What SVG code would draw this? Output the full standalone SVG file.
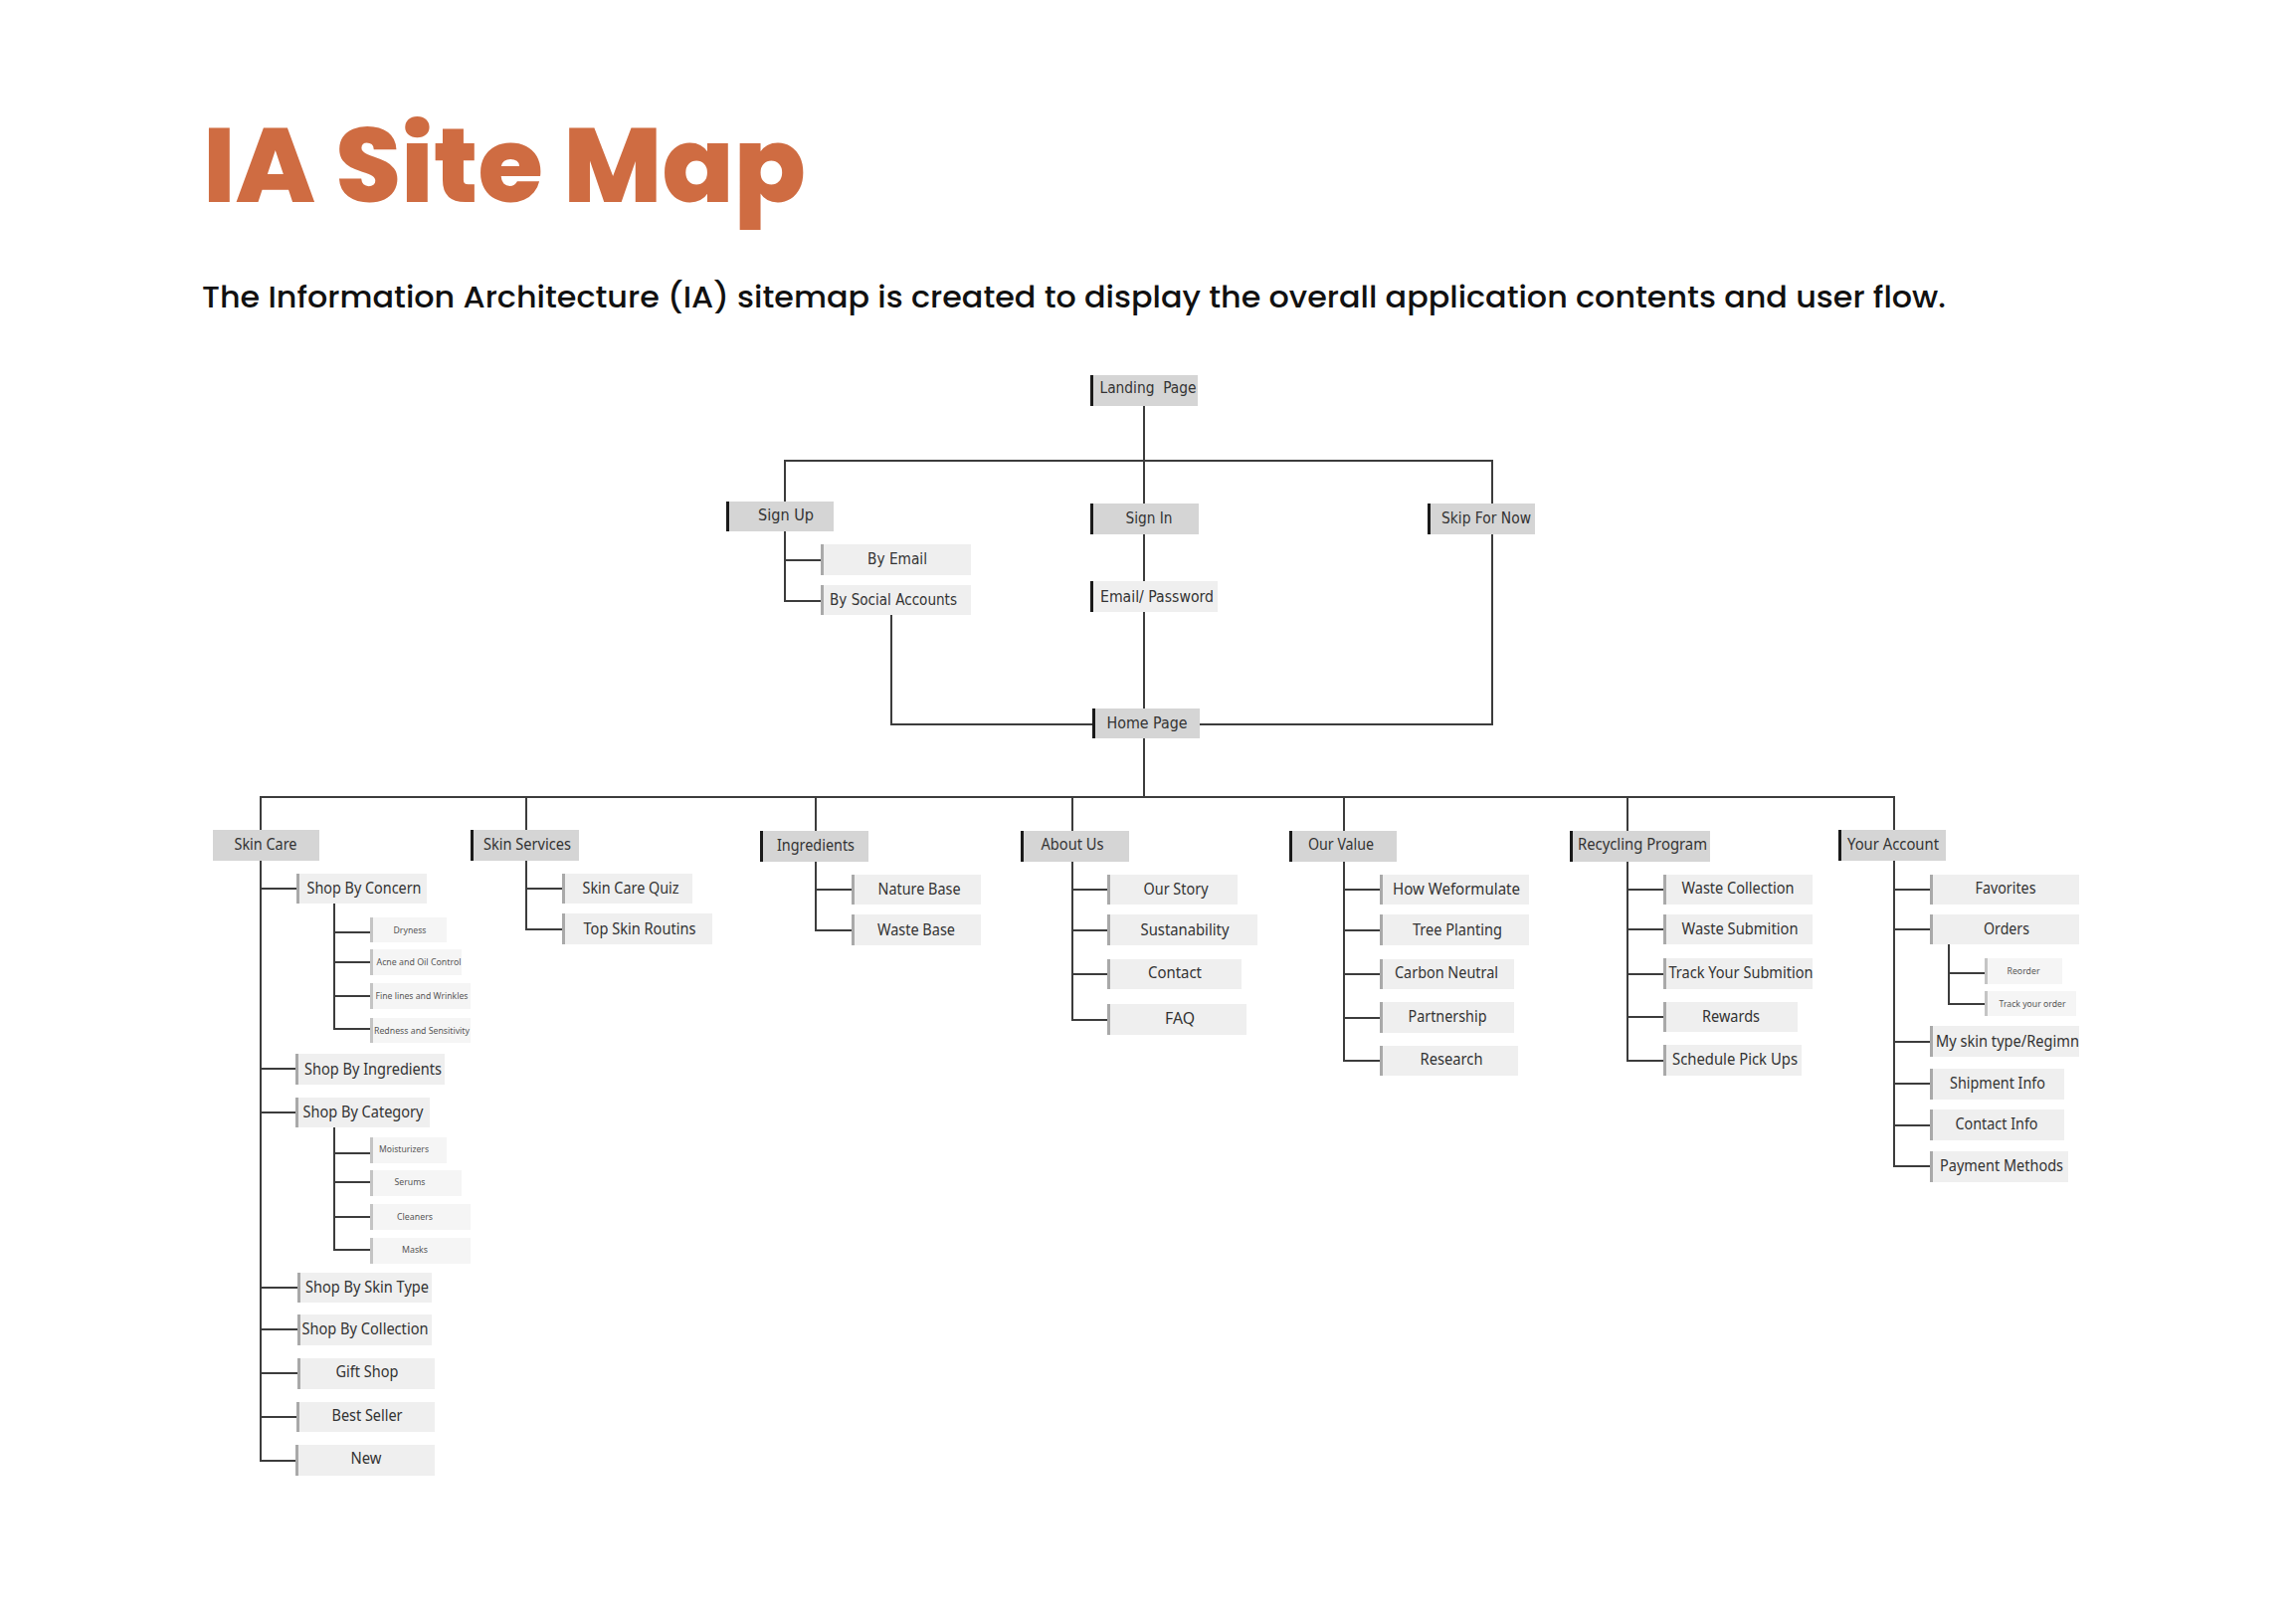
<svg xmlns="http://www.w3.org/2000/svg" width="2308" height="1623" viewBox="0 0 2308 1623">
<style>
.bg{fill:#ffffff}
.title{font-family:"Poppins","Inter","Lato",sans-serif;font-weight:800;font-size:106px;fill:#CF6C42}
.sub{font-family:"Poppins","Inter","Noto Sans",sans-serif;font-weight:500;font-size:30px;fill:#111111}
.l1{fill:#d5d5d5}
.l2{fill:#efefef}
.l3{fill:#f5f5f5}
.dbar{fill:#1a1a1a}
.gbar{fill:#a9a9a9}
.lbar{fill:#c4c4c4}
.t{font-family:"Noto Sans","Open Sans",sans-serif;font-size:16.5px;fill:#333333;text-anchor:middle}
.tc{font-family:"Liberation Sans Narrow","DejaVu Sans Condensed","Noto Sans",sans-serif;font-size:16px;fill:#333333;text-anchor:middle;white-space:pre}
.ts{font-family:"Noto Sans","Open Sans",sans-serif;font-size:9.5px;fill:#555555;text-anchor:middle}
.c path{fill:none;stroke:#3c3c3c;stroke-width:2}
</style>
<rect class="bg" x="0" y="0" width="2308" height="1623"/>
<text class="title" x="204" y="203" textLength="606" lengthAdjust="spacingAndGlyphs">IA Site Map</text>
<text class="sub" x="203" y="309" textLength="1753" lengthAdjust="spacingAndGlyphs">The Information Architecture (IA) sitemap is created to display the overall application contents and user flow.</text>

<g id="connectors" class="c">
<path d="M1150,408 V801"/>
<path d="M789,504 V463 H1500 V506"/>
<path d="M789,534 V604 H826 M789,563 H826"/>
<path d="M1500,537 V728 H1206"/>
<path d="M896,618 V728 H1099"/>
<path d="M262,834 V801 H1904 V834"/>
<path d="M529,801 V834 M820,801 V835 M1078,801 V835 M1351,801 V835 M1636,801 V835"/>
<path d="M262,865 V1468 H298 M262,893 H299 M262,1074 H298 M262,1118 H298 M262,1294 H300 M262,1336 H300 M262,1380 H300 M262,1424 H299"/>
<path d="M336,908 V1034 H373 M336,937 H373 M336,967 H373 M336,1001 H373"/>
<path d="M336,1133 V1256 H373 M336,1159 H373 M336,1188 H373 M336,1223 H373"/>
<path d="M529,865 V934 H566 M529,893 H566"/>
<path d="M820,866 V935 H857 M820,894 H857"/>
<path d="M1078,866 V1025 H1114 M1078,894 H1114 M1078,935 H1114 M1078,979 H1114"/>
<path d="M1351,866 V1066 H1388 M1351,894 H1388 M1351,935 H1388 M1351,979 H1388 M1351,1023 H1388"/>
<path d="M1636,866 V1066 H1673 M1636,894 H1673 M1636,934 H1673 M1636,979 H1673 M1636,1022 H1673"/>
<path d="M1904,865 V1172 H1941 M1904,894 H1941 M1904,934 H1941 M1904,1047 H1941 M1904,1089 H1941 M1904,1131 H1941"/>
<path d="M1959,949 V1009 H1996 M1959,978 H1996"/>
</g>

<g id="n-landing"><rect class="l1" x="1097" y="377" width="107" height="31"/><rect class="dbar" x="1096" y="377" width="3" height="31"/><text class="tc" x="1154" y="395" textLength="97" lengthAdjust="spacingAndGlyphs">Landing  Page</text></g>
<g id="n-signup"><rect class="l1" x="731" y="504" width="107" height="30"/><rect class="dbar" x="730" y="504" width="3" height="30"/><text class="tc" x="790" y="523" textLength="56" lengthAdjust="spacingAndGlyphs">Sign Up</text></g>
<g id="n-signin"><rect class="l1" x="1097" y="506" width="108" height="31"/><rect class="dbar" x="1096" y="506" width="3" height="31"/><text class="tc" x="1155" y="526" textLength="47" lengthAdjust="spacingAndGlyphs">Sign In</text></g>
<g id="n-skip"><rect class="l1" x="1436" y="506" width="107" height="31"/><rect class="dbar" x="1435" y="506" width="3" height="31"/><text class="tc" x="1494" y="526" textLength="90" lengthAdjust="spacingAndGlyphs">Skip For Now</text></g>
<g id="n-byemail"><rect class="l2" x="826" y="547" width="150" height="31"/><rect class="gbar" x="825" y="547" width="3" height="31"/><text class="tc" x="902" y="567" textLength="60" lengthAdjust="spacingAndGlyphs">By Email</text></g>
<g id="n-bysocial"><rect class="l2" x="826" y="588" width="150" height="30"/><rect class="gbar" x="825" y="588" width="3" height="30"/><text class="tc" x="898" y="608" textLength="128" lengthAdjust="spacingAndGlyphs">By Social Accounts</text></g>
<g id="n-emailpw"><rect class="l2" x="1097" y="584" width="127" height="31"/><rect class="dbar" x="1096" y="584" width="3" height="31"/><text class="tc" x="1163" y="605" textLength="114" lengthAdjust="spacingAndGlyphs">Email/ Password</text></g>
<g id="n-home"><rect class="l1" x="1099" y="712" width="107" height="30"/><rect class="dbar" x="1098" y="712" width="3" height="30"/><text class="tc" x="1153" y="732" textLength="81" lengthAdjust="spacingAndGlyphs">Home Page</text></g>

<g id="n-skincare"><rect class="l1" x="214" y="834" width="107" height="31"/><text class="t" x="267" y="854" textLength="63" lengthAdjust="spacingAndGlyphs">Skin Care</text></g>
<g id="n-skinservices"><rect class="l1" x="474" y="834" width="108" height="31"/><rect class="dbar" x="473" y="834" width="3" height="31"/><text class="t" x="530" y="854" textLength="88" lengthAdjust="spacingAndGlyphs">Skin Services</text></g>
<g id="n-ingredients"><rect class="l1" x="765" y="835" width="108" height="31"/><rect class="dbar" x="764" y="835" width="3" height="31"/><text class="t" x="820" y="855" textLength="78" lengthAdjust="spacingAndGlyphs">Ingredients</text></g>
<g id="n-aboutus"><rect class="l1" x="1027" y="835" width="108" height="31"/><rect class="dbar" x="1026" y="835" width="3" height="31"/><text class="t" x="1078" y="854" textLength="63" lengthAdjust="spacingAndGlyphs">About Us</text></g>
<g id="n-ourvalue"><rect class="l1" x="1297" y="835" width="107" height="31"/><rect class="dbar" x="1296" y="835" width="3" height="31"/><text class="t" x="1348" y="854" textLength="66" lengthAdjust="spacingAndGlyphs">Our Value</text></g>
<g id="n-recycling"><rect class="l1" x="1579" y="835" width="140" height="31"/><rect class="dbar" x="1578" y="835" width="3" height="31"/><text class="t" x="1651" y="854" textLength="130" lengthAdjust="spacingAndGlyphs">Recycling Program</text></g>
<g id="n-youraccount"><rect class="l1" x="1849" y="834" width="107" height="31"/><rect class="dbar" x="1848" y="834" width="3" height="31"/><text class="t" x="1903" y="854" textLength="92" lengthAdjust="spacingAndGlyphs">Your Account</text></g>

<g id="n-shopconcern"><rect class="l2" x="299" y="878" width="130" height="30"/><rect class="gbar" x="298" y="878" width="3" height="30"/><text class="t" x="366" y="898" textLength="115" lengthAdjust="spacingAndGlyphs">Shop By Concern</text></g>
<g id="n-dryness"><rect class="l3" x="373" y="922" width="76" height="25"/><rect class="lbar" x="372" y="922" width="3" height="25"/><text class="ts" x="412" y="938" textLength="33" lengthAdjust="spacingAndGlyphs">Dryness</text></g>
<g id="n-acne"><rect class="l3" x="373" y="954" width="91" height="26"/><rect class="lbar" x="372" y="954" width="3" height="26"/><text class="ts" x="421" y="970" textLength="85" lengthAdjust="spacingAndGlyphs">Acne and Oil Control</text></g>
<g id="n-finelines"><rect class="l3" x="373" y="988" width="100" height="26"/><rect class="lbar" x="372" y="988" width="3" height="26"/><text class="ts" x="424" y="1004" textLength="93" lengthAdjust="spacingAndGlyphs">Fine lines and Wrinkles</text></g>
<g id="n-redness"><rect class="l3" x="373" y="1023" width="100" height="25"/><rect class="lbar" x="372" y="1023" width="3" height="25"/><text class="ts" x="424" y="1039" textLength="96" lengthAdjust="spacingAndGlyphs">Redness and Sensitivity</text></g>
<g id="n-shopingredients"><rect class="l2" x="298" y="1059" width="149" height="31"/><rect class="gbar" x="297" y="1059" width="3" height="31"/><text class="t" x="375" y="1080" textLength="138" lengthAdjust="spacingAndGlyphs">Shop By Ingredients</text></g>
<g id="n-shopcategory"><rect class="l2" x="298" y="1103" width="134" height="30"/><rect class="gbar" x="297" y="1103" width="3" height="30"/><text class="t" x="365" y="1123" textLength="121" lengthAdjust="spacingAndGlyphs">Shop By Category</text></g>
<g id="n-moisturizers"><rect class="l3" x="373" y="1143" width="76" height="26"/><rect class="lbar" x="372" y="1143" width="3" height="26"/><text class="ts" x="406" y="1158" textLength="50" lengthAdjust="spacingAndGlyphs">Moisturizers</text></g>
<g id="n-serums"><rect class="l3" x="373" y="1176" width="91" height="26"/><rect class="lbar" x="372" y="1176" width="3" height="26"/><text class="ts" x="412" y="1191" textLength="31" lengthAdjust="spacingAndGlyphs">Serums</text></g>
<g id="n-cleaners"><rect class="l3" x="373" y="1210" width="100" height="26"/><rect class="lbar" x="372" y="1210" width="3" height="26"/><text class="ts" x="417" y="1226" textLength="36" lengthAdjust="spacingAndGlyphs">Cleaners</text></g>
<g id="n-masks"><rect class="l3" x="373" y="1244" width="100" height="26"/><rect class="lbar" x="372" y="1244" width="3" height="26"/><text class="ts" x="417" y="1259" textLength="26" lengthAdjust="spacingAndGlyphs">Masks</text></g>
<g id="n-shopskintype"><rect class="l2" x="300" y="1279" width="134" height="30"/><rect class="gbar" x="299" y="1279" width="3" height="30"/><text class="t" x="369" y="1299" textLength="124" lengthAdjust="spacingAndGlyphs">Shop By Skin Type</text></g>
<g id="n-shopcollection"><rect class="l2" x="300" y="1321" width="134" height="31"/><rect class="gbar" x="299" y="1321" width="3" height="31"/><text class="t" x="367" y="1341" textLength="127" lengthAdjust="spacingAndGlyphs">Shop By Collection</text></g>
<g id="n-giftshop"><rect class="l2" x="300" y="1365" width="137" height="31"/><rect class="gbar" x="299" y="1365" width="3" height="31"/><text class="t" x="369" y="1384" textLength="63" lengthAdjust="spacingAndGlyphs">Gift Shop</text></g>
<g id="n-bestseller"><rect class="l2" x="299" y="1409" width="138" height="30"/><rect class="gbar" x="298" y="1409" width="3" height="30"/><text class="t" x="369" y="1428" textLength="71" lengthAdjust="spacingAndGlyphs">Best Seller</text></g>
<g id="n-new"><rect class="l2" x="298" y="1452" width="139" height="31"/><rect class="gbar" x="297" y="1452" width="3" height="31"/><text class="t" x="368" y="1471" textLength="31" lengthAdjust="spacingAndGlyphs">New</text></g>

<g id="n-quiz"><rect class="l2" x="566" y="878" width="130" height="30"/><rect class="gbar" x="565" y="878" width="3" height="30"/><text class="t" x="634" y="898" textLength="97" lengthAdjust="spacingAndGlyphs">Skin Care Quiz</text></g>
<g id="n-routins"><rect class="l2" x="566" y="918" width="150" height="31"/><rect class="gbar" x="565" y="918" width="3" height="31"/><text class="t" x="643" y="939" textLength="113" lengthAdjust="spacingAndGlyphs">Top Skin Routins</text></g>

<g id="n-naturebase"><rect class="l2" x="857" y="879" width="129" height="30"/><rect class="gbar" x="856" y="879" width="3" height="30"/><text class="t" x="924" y="899" textLength="83" lengthAdjust="spacingAndGlyphs">Nature Base</text></g>
<g id="n-wastebase"><rect class="l2" x="857" y="919" width="129" height="31"/><rect class="gbar" x="856" y="919" width="3" height="31"/><text class="t" x="921" y="940" textLength="78" lengthAdjust="spacingAndGlyphs">Waste Base</text></g>

<g id="n-ourstory"><rect class="l2" x="1114" y="879" width="130" height="30"/><rect class="gbar" x="1113" y="879" width="3" height="30"/><text class="t" x="1182" y="899" textLength="65" lengthAdjust="spacingAndGlyphs">Our Story</text></g>
<g id="n-sustanability"><rect class="l2" x="1114" y="919" width="150" height="31"/><rect class="gbar" x="1113" y="919" width="3" height="31"/><text class="t" x="1191" y="940" textLength="89" lengthAdjust="spacingAndGlyphs">Sustanability</text></g>
<g id="n-contact"><rect class="l2" x="1114" y="964" width="134" height="30"/><rect class="gbar" x="1113" y="964" width="3" height="30"/><text class="t" x="1181" y="983" textLength="54" lengthAdjust="spacingAndGlyphs">Contact</text></g>
<g id="n-faq"><rect class="l2" x="1114" y="1009" width="139" height="31"/><rect class="gbar" x="1113" y="1009" width="3" height="31"/><text class="t" x="1186" y="1029" textLength="30" lengthAdjust="spacingAndGlyphs">FAQ</text></g>

<g id="n-howweformulate"><rect class="l2" x="1388" y="879" width="149" height="30"/><rect class="gbar" x="1387" y="879" width="3" height="30"/><text class="t" x="1464" y="899" textLength="128" lengthAdjust="spacingAndGlyphs">How Weformulate</text></g>
<g id="n-treeplanting"><rect class="l2" x="1388" y="919" width="149" height="31"/><rect class="gbar" x="1387" y="919" width="3" height="31"/><text class="t" x="1465" y="940" textLength="90" lengthAdjust="spacingAndGlyphs">Tree Planting</text></g>
<g id="n-carbon"><rect class="l2" x="1388" y="964" width="134" height="30"/><rect class="gbar" x="1387" y="964" width="3" height="30"/><text class="t" x="1454" y="983" textLength="104" lengthAdjust="spacingAndGlyphs">Carbon Neutral</text></g>
<g id="n-partnership"><rect class="l2" x="1388" y="1007" width="134" height="31"/><rect class="gbar" x="1387" y="1007" width="3" height="31"/><text class="t" x="1455" y="1027" textLength="79" lengthAdjust="spacingAndGlyphs">Partnership</text></g>
<g id="n-research"><rect class="l2" x="1388" y="1051" width="138" height="30"/><rect class="gbar" x="1387" y="1051" width="3" height="30"/><text class="t" x="1459" y="1070" textLength="63" lengthAdjust="spacingAndGlyphs">Research</text></g>

<g id="n-wastecollection"><rect class="l2" x="1673" y="879" width="149" height="30"/><rect class="gbar" x="1672" y="879" width="3" height="30"/><text class="t" x="1747" y="898" textLength="113" lengthAdjust="spacingAndGlyphs">Waste Collection</text></g>
<g id="n-wastesubmition"><rect class="l2" x="1673" y="919" width="149" height="30"/><rect class="gbar" x="1672" y="919" width="3" height="30"/><text class="t" x="1749" y="939" textLength="117" lengthAdjust="spacingAndGlyphs">Waste Submition</text></g>
<g id="n-track"><rect class="l2" x="1673" y="963" width="149" height="31"/><rect class="gbar" x="1672" y="963" width="3" height="31"/><text class="t" x="1750" y="983" textLength="145" lengthAdjust="spacingAndGlyphs">Track Your Submition</text></g>
<g id="n-rewards"><rect class="l2" x="1673" y="1007" width="134" height="30"/><rect class="gbar" x="1672" y="1007" width="3" height="30"/><text class="t" x="1740" y="1027" textLength="58" lengthAdjust="spacingAndGlyphs">Rewards</text></g>
<g id="n-schedule"><rect class="l2" x="1673" y="1050" width="138" height="31"/><rect class="gbar" x="1672" y="1050" width="3" height="31"/><text class="t" x="1744" y="1070" textLength="126" lengthAdjust="spacingAndGlyphs">Schedule Pick Ups</text></g>

<g id="n-favorites"><rect class="l2" x="1941" y="879" width="149" height="30"/><rect class="gbar" x="1940" y="879" width="3" height="30"/><text class="t" x="2016" y="898" textLength="61" lengthAdjust="spacingAndGlyphs">Favorites</text></g>
<g id="n-orders"><rect class="l2" x="1941" y="919" width="149" height="30"/><rect class="gbar" x="1940" y="919" width="3" height="30"/><text class="t" x="2017" y="939" textLength="46" lengthAdjust="spacingAndGlyphs">Orders</text></g>
<g id="n-reorder"><rect class="l3" x="1996" y="963" width="77" height="26"/><rect class="lbar" x="1995" y="963" width="3" height="26"/><text class="ts" x="2034" y="979" textLength="33" lengthAdjust="spacingAndGlyphs">Reorder</text></g>
<g id="n-trackorder"><rect class="l3" x="1996" y="996" width="91" height="25"/><rect class="lbar" x="1995" y="996" width="3" height="25"/><text class="ts" x="2043" y="1012" textLength="67" lengthAdjust="spacingAndGlyphs">Track your order</text></g>
<g id="n-myskin"><rect class="l2" x="1941" y="1031" width="149" height="31"/><rect class="gbar" x="1940" y="1031" width="3" height="31"/><text class="t" x="2018" y="1052" textLength="144" lengthAdjust="spacingAndGlyphs">My skin type/Regimn</text></g>
<g id="n-shipment"><rect class="l2" x="1941" y="1074" width="134" height="31"/><rect class="gbar" x="1940" y="1074" width="3" height="31"/><text class="t" x="2008" y="1094" textLength="96" lengthAdjust="spacingAndGlyphs">Shipment Info</text></g>
<g id="n-contactinfo"><rect class="l2" x="1941" y="1115" width="134" height="31"/><rect class="gbar" x="1940" y="1115" width="3" height="31"/><text class="t" x="2007" y="1135" textLength="83" lengthAdjust="spacingAndGlyphs">Contact Info</text></g>
<g id="n-payment"><rect class="l2" x="1941" y="1157" width="138" height="31"/><rect class="gbar" x="1940" y="1157" width="3" height="31"/><text class="t" x="2012" y="1177" textLength="124" lengthAdjust="spacingAndGlyphs">Payment Methods</text></g>
</svg>
